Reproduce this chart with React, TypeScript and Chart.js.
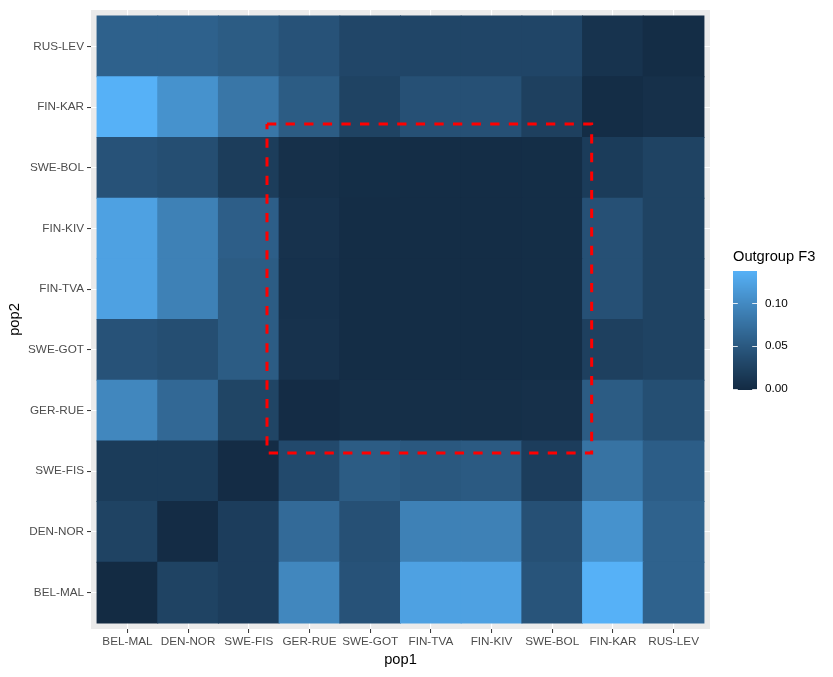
import { useEffect, useRef } from "react";
import { Chart, registerables } from "chart.js";

Chart.register(...registerables);

// Populations, in axis order (pop1 left to right, pop2 bottom to top)
const POPS = [
  "BEL-MAL",
  "DEN-NOR",
  "SWE-FIS",
  "GER-RUE",
  "SWE-GOT",
  "FIN-TVA",
  "FIN-KIV",
  "SWE-BOL",
  "FIN-KAR",
  "RUS-LEV",
];

// Outgroup F3 for each pop2 row; entries follow the pop1 order above
const F3_BEL_MAL = [-0.0015, 0.026, 0.02, 0.097, 0.043, 0.123, 0.123, 0.045, 0.138, 0.06];
const F3_DEN_NOR = [0.026, 0.0, 0.02, 0.068, 0.041, 0.091, 0.091, 0.041, 0.108, 0.06];
const F3_SWE_FIS = [0.018, 0.018, 0.0, 0.033, 0.053, 0.049, 0.051, 0.02, 0.077, 0.055];
const F3_GER_RUE = [0.097, 0.066, 0.028, 0.0, 0.003, 0.003, 0.003, 0.005, 0.053, 0.039];
const F3_SWE_GOT = [0.043, 0.038, 0.053, 0.007, 0.001, 0.001, 0.001, 0.002, 0.023, 0.026];
const F3_FIN_TVA = [0.123, 0.091, 0.053, 0.006, 0.001, 0.001, 0.001, 0.002, 0.041, 0.026];
const F3_FIN_KIV = [0.123, 0.091, 0.056, 0.007, 0.001, 0.001, 0.001, 0.002, 0.041, 0.026];
const F3_SWE_BOL = [0.043, 0.038, 0.019, 0.005, 0.002, 0.001, 0.001, 0.002, 0.018, 0.026];
const F3_FIN_KAR = [0.138, 0.108, 0.08, 0.053, 0.026, 0.041, 0.041, 0.023, 0.001, 0.005];
const F3_RUS_LEV = [0.059, 0.059, 0.053, 0.043, 0.03, 0.029, 0.029, 0.029, 0.008, 0.001];

const F3_ROWS = [
  F3_BEL_MAL,
  F3_DEN_NOR,
  F3_SWE_FIS,
  F3_GER_RUE,
  F3_SWE_GOT,
  F3_FIN_TVA,
  F3_FIN_KIV,
  F3_SWE_BOL,
  F3_FIN_KAR,
  F3_RUS_LEV,
];

const LEGEND_TICKS = [0, 0.05, 0.1];

// Highlighted block, in axis units (cell i spans i..i+1)
const BOX = { xmin: 2.8, xmax: 8.15, ymin: 2.8, ymax: 8.22 };

const LOW = "#132B43";
const HIGH = "#56B1F7";
const FONT = "'Liberation Sans', Arial, Helvetica, sans-serif";

const ALL_VALUES = F3_ROWS.flat();
const VMIN = Math.min(...ALL_VALUES);
const VMAX = Math.max(...ALL_VALUES);

// ---- colour ramp interpolated in CIE Lab ----
type Triple = [number, number, number];

function hexToRgb(hex: string): Triple {
  const n = parseInt(hex.slice(1), 16);
  return [(n >> 16) & 255, (n >> 8) & 255, n & 255];
}

const WHITE: Triple = [0.95047, 1, 1.08883];

function toLab(rgb: Triple): Triple {
  const lin = rgb.map((c) => {
    const s = c / 255;
    return s <= 0.04045 ? s / 12.92 : Math.pow((s + 0.055) / 1.055, 2.4);
  });
  const X = 0.4124564 * lin[0] + 0.3575761 * lin[1] + 0.1804375 * lin[2];
  const Y = 0.2126729 * lin[0] + 0.7151522 * lin[1] + 0.072175 * lin[2];
  const Z = 0.0193339 * lin[0] + 0.119192 * lin[1] + 0.9503041 * lin[2];
  const f = (t: number) => (t > 0.008856 ? Math.cbrt(t) : 7.787 * t + 16 / 116);
  const fx = f(X / WHITE[0]);
  const fy = f(Y / WHITE[1]);
  const fz = f(Z / WHITE[2]);
  return [116 * fy - 16, 500 * (fx - fy), 200 * (fy - fz)];
}

function fromLab(lab: Triple): Triple {
  const fy = (lab[0] + 16) / 116;
  const fx = fy + lab[1] / 500;
  const fz = fy - lab[2] / 200;
  const inv = (t: number) => (t * t * t > 0.008856 ? t * t * t : (t - 16 / 116) / 7.787);
  const X = inv(fx) * WHITE[0];
  const Y = inv(fy) * WHITE[1];
  const Z = inv(fz) * WHITE[2];
  const r = 3.2404542 * X - 1.5371385 * Y - 0.4985314 * Z;
  const g = -0.969266 * X + 1.8760108 * Y + 0.041556 * Z;
  const b = 0.0556434 * X - 0.2040259 * Y + 1.0572252 * Z;
  return [r, g, b].map((c) => {
    const v = c <= 0.0031308 ? 12.92 * c : 1.055 * Math.pow(c, 1 / 2.4) - 0.055;
    return Math.round(Math.min(1, Math.max(0, v)) * 255);
  }) as Triple;
}

const LAB_LOW = toLab(hexToRgb(LOW));
const LAB_HIGH = toLab(hexToRgb(HIGH));

function fillFor(v: number): string {
  const t = Math.min(1, Math.max(0, (v - VMIN) / (VMAX - VMIN)));
  const lab: Triple = [
    LAB_LOW[0] + (LAB_HIGH[0] - LAB_LOW[0]) * t,
    LAB_LOW[1] + (LAB_HIGH[1] - LAB_LOW[1]) * t,
    LAB_LOW[2] + (LAB_HIGH[2] - LAB_LOW[2]) * t,
  ];
  const [r, g, b] = fromLab(lab);
  return `rgb(${r},${g},${b})`;
}

// ---- plugins ----
const panelBackground = {
  id: "panelBackground",
  beforeDraw(chart: any) {
    const { ctx, chartArea } = chart;
    ctx.save();
    ctx.fillStyle = "#EBEBEB";
    ctx.fillRect(chartArea.left, chartArea.top, chartArea.right - chartArea.left, chartArea.bottom - chartArea.top);
    ctx.restore();
  },
};

const dashedBox = {
  id: "dashedBox",
  afterDatasetsDraw(chart: any) {
    const { ctx, scales } = chart;
    const l = scales.x.getPixelForValue(BOX.xmin);
    const r = scales.x.getPixelForValue(BOX.xmax);
    const t = scales.y.getPixelForValue(BOX.ymax);
    const b = scales.y.getPixelForValue(BOX.ymin);
    ctx.save();
    ctx.strokeStyle = "#FF0000";
    ctx.lineWidth = 3;
    ctx.lineCap = "butt";
    ctx.lineJoin = "miter";
    ctx.setLineDash([9.3, 9.3]);
    ctx.beginPath();
    ctx.moveTo(l, t);
    ctx.lineTo(r, t);
    ctx.lineTo(r, b);
    ctx.lineTo(l, b);
    ctx.lineTo(l, t);
    ctx.stroke();
    ctx.restore();
  },
};

const colorBar = {
  id: "colorBar",
  afterDraw(chart: any) {
    const { ctx, chartArea } = chart;
    const left = chartArea.right + 23;
    const top = 271;
    const width = 24;
    const height = 119;
    ctx.save();
    ctx.fillStyle = "#000000";
    ctx.font = `14.67px ${FONT}`;
    ctx.textAlign = "left";
    ctx.textBaseline = "alphabetic";
    ctx.fillText("Outgroup F3", left, 261);

    for (let py = 0; py < height; py++) {
      const v = VMAX - ((py + 0.5) / height) * (VMAX - VMIN);
      ctx.fillStyle = fillFor(v);
      ctx.fillRect(left, top + py, width, 1);
    }

    const yFor = (v: number) => top + height - ((v - VMIN) / (VMAX - VMIN)) * height;
    ctx.strokeStyle = "rgba(255,255,255,0.85)";
    ctx.lineWidth = 1;
    ctx.font = `11.73px ${FONT}`;
    ctx.textBaseline = "middle";
    LEGEND_TICKS.forEach((v) => {
      const y = Math.round(yFor(v)) + 0.5;
      ctx.beginPath();
      ctx.moveTo(left, y);
      ctx.lineTo(left + width / 5, y);
      ctx.moveTo(left + width - width / 5, y);
      ctx.lineTo(left + width, y);
      ctx.stroke();
      ctx.fillStyle = "#000000";
      ctx.fillText(v.toFixed(2), left + width + 8, yFor(v));
    });
    ctx.restore();
  },
};

export default function App() {
  const canvasRef = useRef<HTMLCanvasElement | null>(null);

  useEffect(() => {
    const canvas = canvasRef.current;
    if (!canvas) return;

    const datasets = F3_ROWS.map((row, j) => ({
      label: POPS[j],
      data: row.map((_, i) => ({ x: i + 0.5, y: [j, j + 1] })),
      backgroundColor: row.map(fillFor),
      borderWidth: 0,
      borderSkipped: false,
      inflateAmount: 0.5,
      barPercentage: 1,
      categoryPercentage: 1,
      stack: "grid",
    }));

    const tickFont = { family: FONT, size: 11.73 };
    const titleFont = { family: FONT, size: 14.67 };

    const chart = new Chart(canvas, {
      type: "bar",
      data: { datasets: datasets as any },
      plugins: [panelBackground, dashedBox, colorBar],
      options: {
        responsive: false,
        animation: false,
        layout: { padding: { left: 0, right: 123, top: 7, bottom: 0 } },
        plugins: {
          legend: { display: false },
          tooltip: { enabled: false },
        },
        scales: {
          x: {
            type: "linear",
            min: -0.1,
            max: 10.1,
            stacked: true,
            offset: false,
            afterBuildTicks: (axis: any) => {
              axis.ticks = POPS.map((_, i) => ({ value: i + 0.5 }));
            },
            afterFit: (axis: any) => {
              axis.height = 48;
            },
            ticks: {
              autoSkip: false,
              maxRotation: 0,
              minRotation: 0,
              padding: 2,
              color: "#4D4D4D",
              font: tickFont,
              callback: (_v: any, i: number) => POPS[i],
            },
            grid: {
              offset: false,
              color: "#FFFFFF",
              lineWidth: 1.1,
              tickColor: "#333333",
              tickLength: 4,
              tickWidth: 1,
            },
            border: { display: false },
            title: {
              display: true,
              text: "pop1",
              color: "#000000",
              font: titleFont,
              padding: { top: 0, bottom: 8 },
            },
          },
          y: {
            type: "linear",
            min: -0.1,
            max: 10.1,
            stacked: false,
            offset: false,
            afterBuildTicks: (axis: any) => {
              axis.ticks = POPS.map((_, i) => ({ value: i + 0.5 }));
            },
            afterFit: (axis: any) => {
              axis.width = 91;
            },
            ticks: {
              autoSkip: false,
              padding: 3,
              color: "#4D4D4D",
              font: tickFont,
              callback: (_v: any, i: number) => POPS[i],
            },
            grid: {
              offset: false,
              color: "#FFFFFF",
              lineWidth: 1.1,
              tickColor: "#333333",
              tickLength: 4,
              tickWidth: 1,
            },
            border: { display: false },
            title: {
              display: true,
              text: "pop2",
              color: "#000000",
              font: titleFont,
              padding: { top: 6.3, bottom: 0 },
            },
          },
        } as any,
      },
    });

    return () => chart.destroy();
  }, []);

  return (
    <div style={{ position: "absolute", left: 0, top: 0, width: 833, height: 677, background: "#FFFFFF" }}>
      <canvas ref={canvasRef} width={833} height={677} style={{ display: "block" }} />
    </div>
  );
}
